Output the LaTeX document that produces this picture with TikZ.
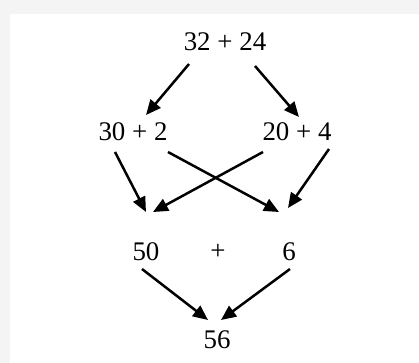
\documentclass[tikz,border=0pt]{standalone}
\usepackage{fontspec}
\setmainfont{Liberation Serif}
\usetikzlibrary{arrows.meta}
\definecolor{framegray}{RGB}{244,244,244}
\begin{document}
\begin{tikzpicture}[x=1bp,y=-1bp,
  lbl/.style={inner sep=0pt, font=\fontsize{27}{30}\selectfont},
  arr/.style={line width=2.5bp, -{Triangle[length=15bp,width=13bp]}}]
\useasboundingbox (0,0) rectangle (419,363);
\fill[framegray] (0,0) rectangle (419,363);
\fill[white] (10,14) rectangle (419,363);
\node[lbl] (top) at (225,42) {32 + 24};
\node[lbl] (l) at (133,132) {30 + 2};
\node[lbl] (r) at (297,132) {20 + 4};
\node[lbl] (fifty) at (146,252) {50};
\node[lbl] (plus) at (218,252) {+};
\node[lbl] (six) at (289,252) {6};
\node[lbl] (res) at (217,340) {56};
% connector end points
\coordinate (t1) at (189,64);  \coordinate (l1) at (146,115);
\coordinate (t2) at (255,66);  \coordinate (r1) at (299,117);
\coordinate (la) at (115,152); \coordinate (fa) at (146,212);
\coordinate (lb) at (168,152); \coordinate (sb) at (279,212);
\coordinate (ra) at (263,152); \coordinate (fb) at (153,212);
\coordinate (rb) at (329,149); \coordinate (sa) at (288,208);
\coordinate (f1) at (142,269); \coordinate (n1) at (208,320);
\coordinate (s1) at (290,269); \coordinate (n2) at (221,320);
\draw[arr] (t1) -- (l1);
\draw[arr] (t2) -- (r1);
\draw[arr] (la) -- (fa);
\draw[arr] (lb) -- (sb);
\draw[arr] (ra) -- (fb);
\draw[arr] (rb) -- (sa);
\draw[arr] (f1) -- (n1);
\draw[arr] (s1) -- (n2);
\end{tikzpicture}
\end{document}
